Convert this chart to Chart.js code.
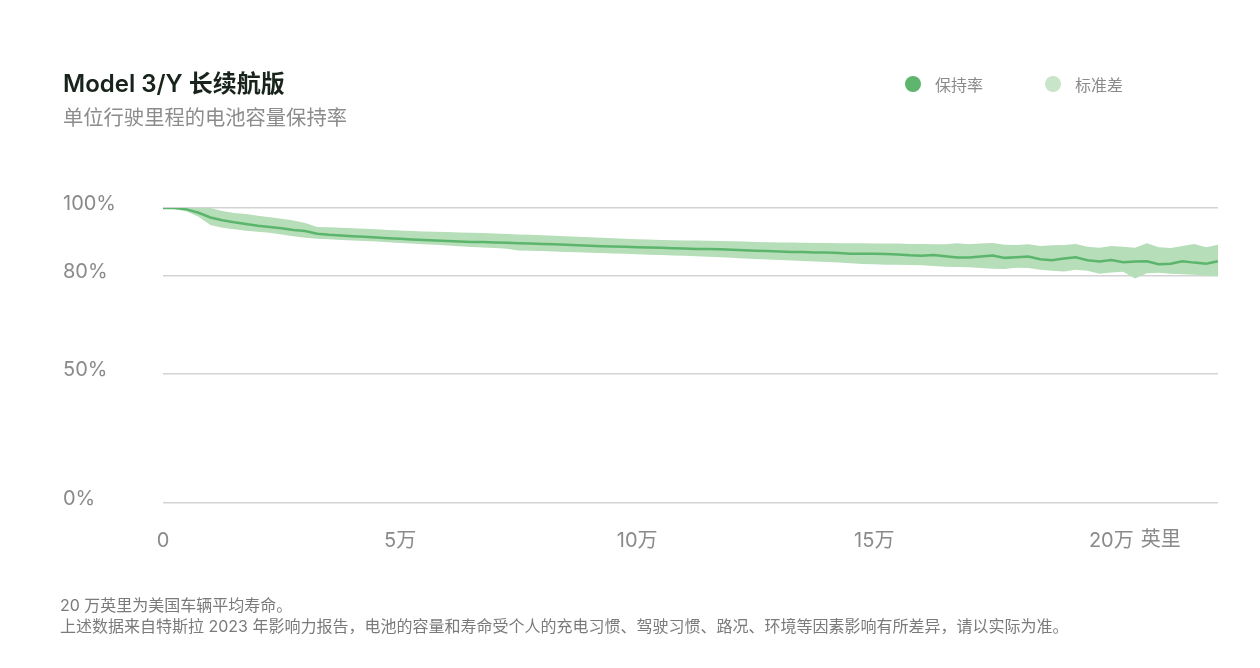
<!DOCTYPE html>
<html lang="zh-CN">
<head>
<meta charset="utf-8">
<script src="https://cdn.jsdelivr.net/npm/chart.js@4.4.1/dist/chart.umd.min.js"></script>
<style>
  html, body { margin: 0; padding: 0; background: #fff; }
  body { width: 1260px; height: 668px; position: relative; overflow: hidden;
         font-family: Inter, "Noto Sans CJK SC", sans-serif; }
  #chart { position: absolute; left: 0; top: 0; }
  .title { position: absolute; left: 63px; top: 70px; font-size: 24px; line-height: 28px;
           font-weight: 600; color: #17231b; }
  .subtitle { position: absolute; left: 63px; top: 106px; font-size: 20.3px; line-height: 24px;
              color: #8c8c8c; }
  .legend { position: absolute; top: 74px; height: 20px; display: flex; align-items: center;
            font-size: 16px; color: #8a8a8a; }
  .legend .dot { width: 16px; height: 16px; border-radius: 50%; margin-right: 14px; }
  .note { position: absolute; left: 60px; top: 595px; font-size: 16px; line-height: 21px; color: #7a7a7a; }
</style>
</head>
<body>
<canvas id="chart" width="1260" height="668"></canvas>
<div class="title">Model 3/Y 长续航版</div>
<div class="subtitle">单位行驶里程的电池容量保持率</div>
<div class="legend" style="left:905px"><span class="dot" style="background:#5db56e"></span>保持率</div>
<div class="legend" style="left:1045px"><span class="dot" style="background:#c8e4c9"></span>标准差</div>
<div class="note">20 万英里为美国车辆平均寿命。<br>上述数据来自特斯拉 2023 年影响力报告，电池的容量和寿命受个人的充电习惯、驾驶习惯、路况、环境等因素影响有所差异，请以实际为准。</div>
<script>
// mileage (miles)
const miles = [0, 2500, 5000, 7500, 10000, 12500, 15000, 17500, 20000, 22500,
  25000, 27500, 30000, 32500, 35000, 37500, 40000, 42500, 45000, 47500,
  50000, 52500, 55000, 57500, 60000, 62500, 65000, 67500, 70000, 72500,
  75000, 77500, 80000, 82500, 85000, 87500, 90000, 92500, 95000, 97500,
  100000, 102500, 105000, 107500, 110000, 112500, 115000, 117500, 120000, 122500,
  125000, 127500, 130000, 132500, 135000, 137500, 140000, 142500, 145000, 147500,
  150000, 152500, 155000, 157500, 160000, 162500, 165000, 167500, 170000, 172500,
  175000, 177500, 180000, 182500, 185000, 187500, 190000, 192500, 195000, 197500,
  200000, 202500, 205000, 207500, 210000, 212500, 215000, 217500, 220000, 222500];

// capacity retention (%)
const retention = [100, 100, 99.6, 98.6, 97.2, 96.4, 95.8, 95.3, 94.8, 94.4,
  94.0, 93.5, 93.2, 92.4, 92.1, 91.9, 91.7, 91.5, 91.3, 91.1,
  90.9, 90.75, 90.6, 90.45, 90.3, 90.15, 90.0, 89.95, 89.85, 89.75,
  89.6, 89.5, 89.4, 89.3, 89.15, 89.0, 88.9, 88.75, 88.65, 88.55,
  88.45, 88.35, 88.25, 88.15, 88.05, 87.95, 87.9, 87.85, 87.7, 87.55,
  87.4, 87.3, 87.15, 87.05, 87.05, 86.9, 86.85, 86.7, 86.5, 86.55,
  86.5, 86.45, 86.3, 86.05, 85.95, 86.15, 85.8, 85.4, 85.4, 85.7,
  86.0, 85.3, 85.5, 85.7, 84.9, 84.6, 85.1, 85.5, 84.6, 84.2,
  84.7, 84.0, 84.2, 84.3, 83.4, 83.6, 84.3, 83.9, 83.6, 84.3];

// standard deviation band, upper / lower edge (%)
const bandUpper = [100, 100, 100, 100, 100, 99.1, 98.5, 98.2, 97.7, 97.25,
  96.8, 96.35, 95.6, 94.4, 94.3, 94.2, 94.0, 93.85, 93.7, 93.5,
  93.35, 93.2, 93.1, 93.0, 92.9, 92.8, 92.7, 92.6, 92.5, 92.35,
  92.2, 92.1, 92.0, 91.8, 91.7, 91.5, 91.4, 91.2, 91.1, 90.9,
  90.8, 90.7, 90.6, 90.5, 90.45, 90.4, 90.35, 90.3, 90.2, 90.1,
  90.0, 89.9, 89.85, 89.8, 89.75, 89.7, 89.65, 89.6, 89.6, 89.6,
  89.55, 89.5, 89.5, 89.4, 89.4, 89.3, 89.35, 89.6, 89.3, 89.5,
  89.7, 89.2, 89.1, 89.3, 88.8, 89.0, 89.1, 89.4, 88.6, 88.3,
  88.8, 88.6, 88.3, 89.6, 88.4, 88.2, 88.8, 89.4, 88.4, 89.2];

const bandLower = [100, 99.6, 99.0, 97.4, 95.0, 94.2, 93.7, 93.3, 93.0, 92.7,
  92.2, 91.7, 91.2, 90.95, 90.8, 90.6, 90.45, 90.3, 90.1, 89.9,
  89.7, 89.55, 89.35, 89.15, 88.95, 88.75, 88.5, 88.35, 88.2, 88.0,
  87.5, 87.4, 87.3, 87.15, 87.05, 86.95, 86.8, 86.7, 86.6, 86.5,
  86.35, 86.25, 86.15, 86.0, 85.9, 85.8, 85.6, 85.45, 85.3, 85.15,
  85.0, 84.85, 84.7, 84.5, 84.35, 84.2, 84.05, 83.9, 83.7, 83.5,
  83.4, 83.3, 83.25, 83.2, 83.1, 82.9, 82.7, 82.6, 82.5, 82.3,
  82.1, 82.0, 82.4, 82.3, 81.8, 81.5, 81.3, 81.8, 81.5, 80.6,
  81.0, 81.2, 79.2, 80.8, 80.9, 80.6, 80.5, 80.3, 80.0, 79.9];

const xTicks = [0, 50000, 100000, 150000, 200000];
const xTickLabels = ['0', '5万', '10万', '15万', '20万'];
const xUnit = '英里';
const yTicks = [0, 50, 80, 100];
const yTickLabels = ['0%', '50%', '80%', '100%'];

const FONT = 'Inter, "Noto Sans CJK SC", sans-serif';
const TICK_COLOR = '#8a8a8a';
const TICK_SIZE = 20;
const X_PAD = 18;

// y axis in the original is not evenly spaced: each tick sits at its own height
class StopScale extends Chart.LinearScale {
    _decimalFor(value) {
        const stops = this.options.stops;
        const vals = yTicks;
        if (value <= vals[0]) return stops[0];
        for (let i = 0; i < vals.length - 1; i++) {
            if (value <= vals[i + 1]) {
                const t = (value - vals[i]) / (vals[i + 1] - vals[i]);
                return stops[i] + t * (stops[i + 1] - stops[i]);
            }
        }
        return stops[stops.length - 1];
    }
    getPixelForValue(value) {
        return this.getPixelForDecimal(this._decimalFor(value));
    }
    getValueForPixel(pixel) {
        const d = this.getDecimalForPixel(pixel);
        const stops = this.options.stops;
        for (let i = 0; i < stops.length - 1; i++) {
            if (d <= stops[i + 1]) {
                const t = (d - stops[i]) / (stops[i + 1] - stops[i]);
                return yTicks[i] + t * (yTicks[i + 1] - yTicks[i]);
            }
        }
        return yTicks[yTicks.length - 1];
    }
}
StopScale.id = 'stops';
StopScale.defaults = Chart.LinearScale.defaults;
Chart.register(StopScale);

const toPoints = (arr) => miles.map((m, i) => ({ x: m, y: arr[i] }));

// writes the unit after the last x tick label
const unitLabel = {
    id: 'unitLabel',
    afterDraw(chart) {
        const xs = chart.scales.x;
        const ctx = chart.ctx;
        const last = xTicks.length - 1;
        const px = xs.getPixelForValue(xTicks[last]);
        ctx.save();
        ctx.font = `${TICK_SIZE}px ${FONT}`;
        ctx.fillStyle = TICK_COLOR;
        ctx.textBaseline = 'middle';
        ctx.textAlign = 'left';
        const w = ctx.measureText(xTickLabels[last]).width;
        ctx.fillText(xUnit, px + w / 2 + 7, xs.top + X_PAD + 19);
        ctx.restore();
    }
};

const ctx = document.getElementById('chart').getContext('2d');
new Chart(ctx, {
    type: 'line',
    data: {
        datasets: [
            {
                label: '保持率',
                data: toPoints(retention),
                borderColor: '#5cb56c',
                borderWidth: 2.5,
                pointRadius: 0,
                fill: false,
                order: 0
            },
            {
                label: '标准差',
                data: toPoints(bandUpper),
                borderWidth: 0,
                borderColor: 'rgba(0,0,0,0)',
                backgroundColor: '#b6deb8',
                pointRadius: 0,
                fill: '+1',
                order: 1
            },
            {
                label: '标准差下限',
                data: toPoints(bandLower),
                borderWidth: 0,
                borderColor: 'rgba(0,0,0,0)',
                pointRadius: 0,
                fill: false,
                order: 2
            }
        ]
    },
    options: {
        responsive: false,
        animation: false,
        layout: { padding: { left: 63, right: 42, top: 208, bottom: 0 } },
        plugins: {
            legend: { display: false },
            tooltip: { enabled: false }
        },
        scales: {
            x: {
                type: 'linear',
                min: 0,
                max: 222500,
                afterBuildTicks: (scale) => { scale.ticks = xTicks.map(v => ({ value: v })); },
                afterFit: (scale) => { scale.height = 165; },
                ticks: {
                    callback: (v, i) => xTickLabels[i],
                    font: { family: FONT, size: TICK_SIZE },
                    color: TICK_COLOR,
                    padding: X_PAD,
                    maxRotation: 0
                },
                grid: { display: false },
                border: { display: false }
            },
            y: {
                type: 'stops',
                min: 0,
                max: 100,
                stops: [0, 0.437, 0.77, 1],
                afterBuildTicks: (scale) => { scale.ticks = yTicks.map(v => ({ value: v })); },
                afterFit: (scale) => { scale.width = 100; },
                ticks: {
                    callback: (v, i) => yTickLabels[i],
                    font: { family: FONT, size: TICK_SIZE },
                    color: TICK_COLOR,
                    crossAlign: 'far',
                    labelOffset: -4,
                    padding: 0
                },
                grid: { color: '#d3d3d3', lineWidth: 1.5, drawTicks: false },
                border: { display: false }
            }
        }
    },
    plugins: [unitLabel]
});
</script>
</body>
</html>
